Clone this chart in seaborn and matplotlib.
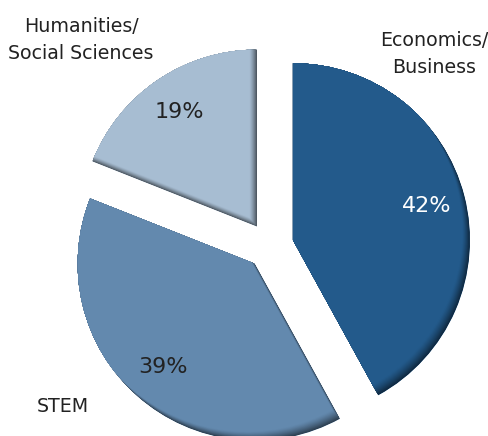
import matplotlib
matplotlib.use("Agg")
import matplotlib.pyplot as plt
import numpy as np
import seaborn as sns
from matplotlib.colors import to_rgb
from matplotlib.patches import Wedge

# Degree field shares
categories = ["Economics/\nBusiness", "STEM", "Humanities/\nSocial Sciences"]
shares = [42, 39, 19]
colors = ["#235a8b", "#6389ae", "#a7bdd2"]
pct_colors = ["white", "#222222", "#222222"]

sns.set_theme(style="white")
plt.rcParams["font.family"] = ["DejaVu Sans"]

W, H = 489, 436
fig = plt.figure(figsize=(W / 100, H / 100), dpi=100)
ax = fig.add_axes([0, 0, 1, 1])

wedges, _, autotexts = ax.pie(
    shares,
    colors=colors,
    startangle=90,
    counterclock=False,
    radius=177,
    center=(270.2, 190),
    explode=[23.5] * len(shares),
    autopct=lambda p: f"{p:.0f}%",
    pctdistance=0.78,
    textprops=dict(fontsize=16),
    wedgeprops=dict(linewidth=0),
)
ax.set_xlim(0, W)
ax.set_ylim(0, H)
ax.set_aspect("equal")
ax.axis("off")

for t, c in zip(autotexts, pct_colors):
    t.set_color(c)
    t.set_zorder(20)

# Soft inner shading along the lower-right edges of each slice
steps = 16
shift = np.array([-0.64, 0.77])
for w, base in zip(wedges, colors):
    base = np.array(to_rgb(base))
    cx, cy = w.center
    for k in range(steps + 1):
        f = k / steps
        dark = 0.55 * (1 - f) ** 1.3
        col = base * (1 - dark)
        off = shift * (k * 0.72)
        sw = Wedge((cx + off[0], cy + off[1]), w.r, w.theta1, w.theta2,
                   facecolor=col, edgecolor="none", zorder=2 + k * 0.01)
        ax.add_patch(sw)
        sw.set_clip_path(w)

label_pos = [(434, 382), (63, 30), (81, 396)]
for name, (x, y) in zip(categories, label_pos):
    ax.text(x, y, name, ha="center", va="center", multialignment="center",
            fontsize=13.7, color="#222222", linespacing=1.55, zorder=20)

fig.savefig("out.png", dpi=100)
